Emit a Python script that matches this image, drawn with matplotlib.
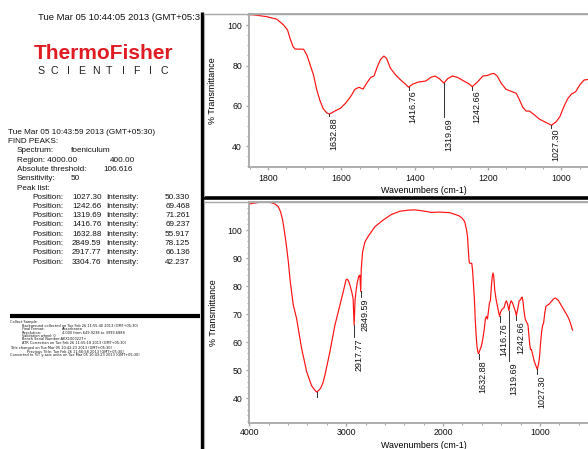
import matplotlib.pyplot as plt
from matplotlib.ticker import MultipleLocator

plt.rcParams["font.family"] = ["Liberation Sans", "DejaVu Sans"]

# figure size in pixels (dpi 100)
W, H = 588, 449

# ------------------------------------------------------------
# Spectrum
# ------------------------------------------------------------
wavenumber = [
    4000, 3950, 3890, 3840, 3787, 3735, 3701, 3677, 3656, 3642, 3622, 3597,
    3577, 3546, 3512, 3460, 3408, 3357, 3325, 3305, 3280, 3264, 3240, 3219,
    3168, 3116, 3064, 3030, 3002, 2989, 2975, 2961, 2940, 2928, 2918, 2908,
    2899, 2886, 2868, 2858, 2850, 2844, 2830, 2806, 2772, 2703, 2617, 2531,
    2445, 2359, 2290, 2204, 2118, 2032, 1929, 1851, 1836, 1804, 1776, 1758,
    1747, 1740, 1732, 1726, 1703, 1694, 1685, 1676, 1667, 1659, 1650, 1640,
    1633, 1625, 1616, 1603, 1589, 1575, 1563, 1552, 1541, 1530, 1520, 1511,
    1502, 1493, 1484, 1477, 1466, 1452, 1438, 1425, 1417, 1405, 1390, 1370,
    1356, 1345, 1333, 1320, 1310, 1297, 1283, 1265, 1251, 1243, 1228, 1214,
    1201, 1192, 1184, 1175, 1164, 1151, 1137, 1123, 1114, 1105, 1096, 1087,
    1073, 1059, 1046, 1027, 1014, 1004, 993, 982, 972, 961, 950, 938,
    927, 905, 880, 860, 840, 811, 790, 760, 740, 725, 700, 680, 663,
]
transmittance = [
    109.3, 109.6, 109.9, 109.9, 109.9, 109.3, 108.3, 106.5, 103.6, 100.6, 95.8, 88.7,
    81.6, 73.3, 68.5, 57.8, 49.5, 44.5, 43.0, 42.24, 42.9, 43.6, 45.5, 48.3,
    56.6, 66.1, 73.3, 78.0, 82.2, 82.5, 81.8, 80.4, 77.6, 75.5, 66.14, 75.0,
    78.0, 81.3, 83.7, 83.9, 78.13, 86.3, 92.3, 95.8, 97.8, 101.2, 103.6, 105.6,
    106.7, 107.1, 107.2, 106.8, 106.3, 106.4, 106.2, 105.3, 105.1, 104.3, 103.0, 100.2,
    97.7, 93.5, 89.4, 88.2, 88.1, 85.2, 80.3, 75.3, 67.8, 62.9, 58.7, 56.5,
    55.92, 56.6, 57.6, 58.7, 61.2, 64.5, 68.2, 69.2, 68.3, 71.5, 74.1, 74.8,
    79.4, 83.1, 84.7, 83.6, 78.6, 75.3, 72.8, 70.7, 69.24, 70.8, 71.8, 72.3,
    74.1, 74.8, 73.5, 71.26, 73.5, 74.8, 74.1, 72.2, 70.8, 69.47, 72.0, 74.8,
    75.1, 75.8, 76.1, 74.8, 71.2, 68.2, 67.2, 66.2, 62.9, 59.2, 57.4, 57.4,
    55.4, 53.3, 52.1, 50.33, 52.1, 54.6, 59.6, 63.7, 65.9, 67.0, 70.3, 72.8,
    73.1, 73.6, 74.6, 75.4, 75.8, 75.0, 73.8, 72.0, 70.8, 70.0, 68.3, 66.3, 64.3,
]

# Peak list (from the FIND PEAKS report)
peak_pos = [1027.30, 1242.66, 1319.69, 1416.76, 1632.88, 2849.59, 2917.77, 3304.76]
peak_int = [50.330, 69.468, 71.261, 69.237, 55.917, 78.125, 66.136, 42.237]

# where each peak label starts (top of the rotated text), in %T; None = no label
top_label_at = [48.8, 67.5, 53.8, 67.5, 54.3, None, None, None]
bottom_label_at = [48.3, 67.5, 52.8, 66.7, 53.7, 75.6, 61.4, None]
bottom_tick_end = [48.8, 67.9, 53.2, 67.1, 54.2, 76.0, 61.8, 40.6]

RED = "#ff1010"
GRAY = "#a8a8a8"


def pxbox(left, top, right, bottom):
    """Pixel box -> figure fraction rect."""
    return [left / W, 1 - bottom / H, (right - left) / W, (bottom - top) / H]


def style_axes(ax, xlim, ylim, xmaj, xmin, ymaj, ymin, xpad):
    ax.plot(wavenumber, transmittance, color=RED, linewidth=0.85)
    ax.set_xlim(*xlim)
    ax.set_ylim(*ylim)
    ax.xaxis.set_major_locator(MultipleLocator(xmaj))
    ax.xaxis.set_minor_locator(MultipleLocator(xmin))
    ax.yaxis.set_major_locator(MultipleLocator(ymaj))
    ax.yaxis.set_minor_locator(MultipleLocator(ymin))
    for spine in ax.spines.values():
        spine.set_color(GRAY)
        spine.set_linewidth(1.3)
    ax.tick_params(which="both", direction="out", color=GRAY,
                   labelsize=6.3, labelcolor="#111111")
    ax.tick_params(which="major", length=2.5, width=1.0, pad=2.5)
    ax.tick_params(which="minor", length=1.3, width=0.8)
    ax.tick_params(axis="x", which="major", pad=xpad)
    ax.set_xlabel("Wavenumbers (cm-1)", fontsize=6.4)
    ax.set_ylabel("% Transmittance", fontsize=6.4)


def add_peaks(ax, label_at, tick_end=None):
    for k, (pos, val) in enumerate(zip(peak_pos, peak_int)):
        top = label_at[k]
        if tick_end is not None:
            end = tick_end[k]
        elif top is not None:
            end = top + 0.4
        else:
            continue
        ax.plot([pos, pos], [val, end], color="#303030", linewidth=0.7)
        if top is not None:
            ax.text(pos, top, f"{pos:.2f}", rotation=90, ha="left", va="top",
                    fontsize=6.5, color="#111111")


fig = plt.figure(figsize=(W / 100, H / 100), dpi=100, facecolor="white")

# ------------------------------------------------------------
# Top panel: 1850 - 900 zoom
# ------------------------------------------------------------
ax_top = fig.add_axes(pxbox(249, 14, 598, 167))
style_axes(ax_top, (1852, 900), (29.6, 105.6), 200, 50, 20, 5, 2.5)
add_peaks(ax_top, top_label_at)
ax_top.xaxis.set_label_coords(0.5, -0.125)
ax_top.yaxis.set_label_coords(-0.092, 0.5)

# ------------------------------------------------------------
# Bottom panel: full range
# ------------------------------------------------------------
ax_bot = fig.add_axes(pxbox(249.3, 202.3, 598, 423.3))
style_axes(ax_bot, (4000, 400), (31.1, 109.9), 1000, 200, 10, 2, 1.0)
add_peaks(ax_bot, bottom_label_at, bottom_tick_end)
ax_bot.xaxis.set_label_coords(0.5, -0.078)
ax_bot.yaxis.set_label_coords(-0.09, 0.5)

# ------------------------------------------------------------
# Left report panel (pixel coordinates, clipped at the divider)
# ------------------------------------------------------------
ax_left = fig.add_axes(pxbox(0, 0, 200, H))
ax_left.set_xlim(0, 200)
ax_left.set_ylim(H, 0)
ax_left.axis("off")


def put(x, y, s, **kw):
    kw.setdefault("fontsize", 5.9)
    kw.setdefault("va", "center")
    kw.setdefault("color", "#111111")
    ax_left.text(x, y, s, clip_on=True, **kw)


put(38, 17.5, "Tue Mar 05 10:44:05 2013 (GMT+05:30)", fontsize=6.8)

# logo
put(34, 53.5, "ThermoFisher", fontsize=15, fontweight="bold", color="#e01b22")
for i, ch in enumerate("SCIENTIFIC"):
    put(40.7 + i * 13.73, 70.5, ch, fontsize=7.6, ha="center", color="#222222")

# peak report
y0, dy = 132.5, 9.25
put(8, y0, "Tue Mar 05 10:43:59 2013 (GMT+05:30)")
put(8, y0 + dy, "FIND PEAKS:")
put(17, y0 + 2 * dy, "Spectrum:")
put(71, y0 + 2 * dy, "foeniculum")
put(17, y0 + 3 * dy, "Region: 4000.00")
put(110, y0 + 3 * dy, "400.00")
put(17, y0 + 4 * dy, "Absolute threshold:")
put(103, y0 + 4 * dy, "106.616")
put(17, y0 + 5 * dy, "Sensitivity:")
put(71, y0 + 5 * dy, "50")
put(17, y0 + 6 * dy, "Peak list:")
for k, (pos, val) in enumerate(zip(peak_pos, peak_int)):
    y = y0 + (7 + k) * dy
    put(32, y, "Position:")
    put(72, y, f"{pos:.2f}")
    put(106, y, "Intensity:")
    put(190, y, f"{val:.3f}", ha="right")

# black separator above the history block
ax_left.plot([10, 200], [315.5, 315.5], color="black", linewidth=3.0,
             solid_capstyle="butt")

# history block (tiny print)
small = dict(fontsize=2.55, family="DejaVu Sans")
hy, hdy = 322.0, 3.5
put(10, hy, "Collect Sample", **small)
put(22, hy + hdy, "Background collected on Tue Feb 26 11:55:40 2013 (GMT+05:30)", **small)
put(22, hy + 2 * hdy, "Final format:", **small)
put(62, hy + 2 * hdy, "Absorbance", **small)
put(22, hy + 3 * hdy, "Resolution:", **small)
put(62, hy + 3 * hdy, "4.000 from 649.9238 to 3999.6888", **small)
put(22, hy + 4 * hdy, "Validation wheel: 0", **small)
put(22, hy + 5 * hdy, "Bench Serial Number:AKX1000227+", **small)
put(22, hy + 6 * hdy, "ATR Correction on Tue Feb 26 11:55:18 2013 (GMT+05:30)", **small)
put(10, 348.3, "Title changed on Tue Mar 05 10:42:23 2013 (GMT+05:30)", **small)
put(27, 351.8, "Previous Title: Tue Feb 26 11:56:58 2013 (GMT+05:30)", **small)
put(10, 355.3, "Converted to %T y-axis units on Tue Mar 05 10:43:23 2013 (GMT+05:30)", **small)

# ------------------------------------------------------------
# Window frame lines
# ------------------------------------------------------------
ax_frame = fig.add_axes([0, 0, 1, 1], zorder=5)
ax_frame.set_xlim(0, W)
ax_frame.set_ylim(H, 0)
ax_frame.axis("off")
ax_frame.plot([201.5, 201.5], [12, H], color="black", linewidth=2.4,
              solid_capstyle="butt")
ax_frame.plot([203, W], [198.3, 198.3], color="black", linewidth=2.6,
              solid_capstyle="butt")
ax_frame.plot([204, 204], [14, 196], color=GRAY, linewidth=0.8)
ax_frame.plot([204, 204], [201, H], color=GRAY, linewidth=0.8)
ax_frame.plot([204, W], [14, 14], color=GRAY, linewidth=1.0)
ax_frame.plot([204, W], [201.5, 201.5], color=GRAY, linewidth=1.0)

fig.savefig("out.png", dpi=100, facecolor="white")
